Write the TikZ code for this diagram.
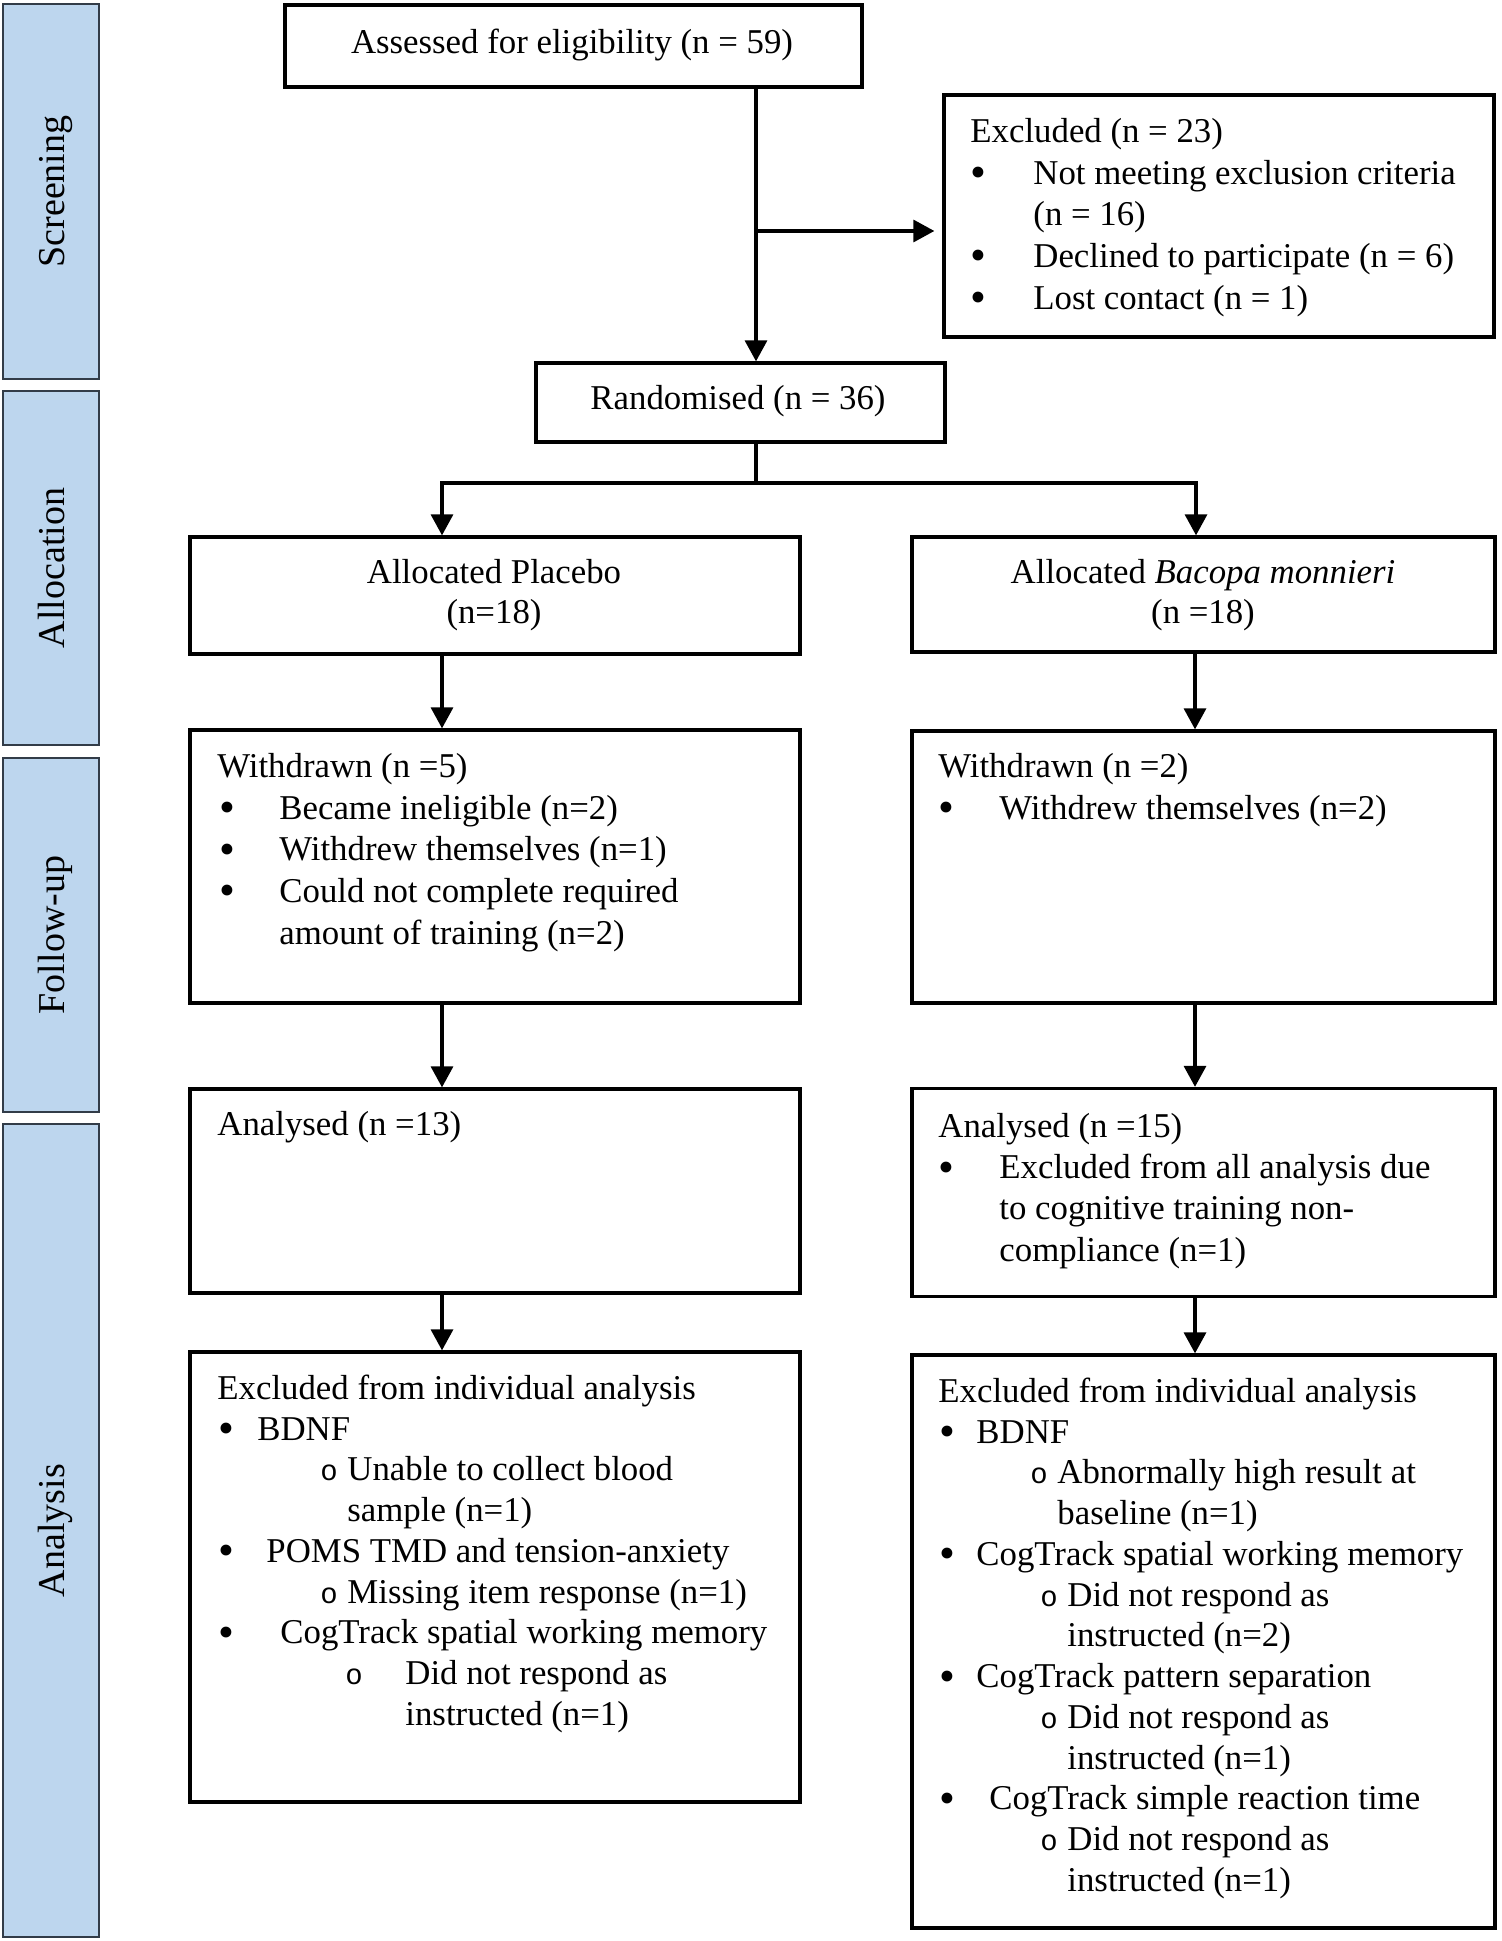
\documentclass[tikz,border=0pt]{standalone}
\usepackage{fontspec}
\setmainfont{Liberation Serif}
\newfontfamily\monof{Liberation Mono}
\usetikzlibrary{arrows.meta}
\definecolor{barfill}{RGB}{189,214,238}
\definecolor{barline}{RGB}{50,60,72}
\newlength\pxu \setlength\pxu{0.5pt}
\newcommand\bfnt{\fontsize{17.4pt}{20.85pt}\selectfont}
\newcommand\bfntb{\fontsize{17.4pt}{20.375pt}\selectfont}
\newcommand\bigbul{\raisebox{-0.1em}{\scalebox{1.3}{\textbullet}}}
\newcommand\subo{{\monof\fontsize{14.5pt}{17pt}\selectfont o}}
\newcommand\bitem[3]{\makebox[#2\pxu][l]{\hspace*{\dimexpr\pxu*(#1-1)\relax}\bigbul}#3}
\newcommand\sitem[3]{\hspace*{#1\pxu}\makebox[\dimexpr\pxu*(#2-#1)\relax][l]{\subo}#3}
\newcommand\ind[2]{\hspace*{#1\pxu}#2}
\newcommand\fs{\rule{0pt}{14pt}}
\begin{document}
\begin{tikzpicture}[x=0.5pt,y=-0.5pt,
  box/.style={draw, line width=1.65pt, rectangle, inner sep=0pt},
  bar/.style={draw=barline, fill=barfill, line width=0.6pt, rectangle, inner sep=0pt, minimum width=48pt},
  side/.style={rotate=90, anchor=base, inner sep=0pt, font=\fontsize{19pt}{22pt}\selectfont},
  txt/.style={anchor=north west, inner sep=0pt, align=left, font=\bfnt},
  ctr/.style={anchor=north, inner sep=0pt, align=center, font=\bfnt},
  conn/.style={line width=1.65pt},
  arr/.style={conn, -{Triangle[width=11pt,length=10.5pt]}},
  darr/.style={conn, {Triangle[width=11pt,length=10.5pt]}-{Triangle[width=11pt,length=10.5pt]}},
]
\useasboundingbox (0,0) rectangle (1501,1941);
\fill[white] (0,0) rectangle (1501,1941);

% side bars
\node[bar, minimum height=187.5pt] (barS) at (51,191.5) {};
\node[bar, minimum height=177pt] (barA) at (51,568) {};
\node[bar, minimum height=177pt] (barF) at (51,935) {};
\node[bar, minimum height=406.5pt] (barN) at (51,1530.5) {};
\node[side] (lblS) at (64,191.5) {Screening};
\node[side] (lblA) at (64,568) {Allocation};
\node[side] (lblF) at (64,935) {Follow-up};
\node[side] (lblN) at (64,1530.5) {Analysis};

% boxes
\node[box, minimum width=288.5pt, minimum height=41pt] (assess) at (573.5,46) {};
\node[box, minimum width=275pt, minimum height=121pt] (excl) at (1219,216) {};
\node[box, minimum width=204.5pt, minimum height=39.5pt] (rand) at (740.5,402.5) {};
\node[box, minimum width=305pt, minimum height=58.5pt] (allocP) at (495,595.5) {};
\node[box, minimum width=291.5pt, minimum height=57.5pt] (allocB) at (1203.5,594.5) {};
\node[box, minimum width=305pt, minimum height=136.5pt] (wdP) at (495,866.5) {};
\node[box, minimum width=291.5pt, minimum height=136pt] (wdB) at (1203.5,867) {};
\node[box, minimum width=305pt, minimum height=102pt] (anP) at (495,1191) {};
\node[box, minimum width=291.5pt, minimum height=104pt] (anB) at (1203.5,1192.5) {};
\node[box, minimum width=305pt, minimum height=225pt] (exP) at (495,1577) {};
\node[box, minimum width=291.5pt, minimum height=286.5pt] (exB) at (1203.5,1641.5) {};

% texts
\node[ctr] (tAssess) at (572,25) {\fs Assessed for eligibility (n = 59)};
\node[ctr] (tRand) at (738,381) {\fs Randomised (n = 36)};
\node[txt] (tExcl) at (970,114) {\fs Excluded (n = 23)\\
  \bitem{1}{63}{Not meeting exclusion criteria}\\
  \ind{63}{(n = 16)}\\
  \bitem{1}{63}{Declined to participate (n = 6)}\\
  \bitem{1}{63}{Lost contact (n = 1)}};
\node[ctr, font=\fontsize{17.4pt}{20pt}\selectfont] (tAllocP) at (494,555) {\fs Allocated Placebo\\(n=18)};
\node[ctr, font=\fontsize{17.4pt}{20pt}\selectfont] (tAllocB) at (1203,555) {\fs Allocated \textit{Bacopa monnieri}\\(n =18)};
\node[txt] (tWdP) at (217,749) {\fs Withdrawn (n =5)\\
  \bitem{3}{62}{Became ineligible (n=2)}\\
  \bitem{3}{62}{Withdrew themselves (n=1)}\\
  \bitem{3}{62}{Could not complete required}\\
  \ind{62}{amount of training (n=2)}};
\node[txt] (tWdB) at (938,749) {\fs Withdrawn (n =2)\\
  \bitem{1}{61}{Withdrew themselves (n=2)}};
\node[txt] (tAnP) at (217,1107) {\fs Analysed (n =13)};
\node[txt, font=\fontsize{17.4pt}{20.6pt}\selectfont] (tAnB) at (938,1109) {\fs Analysed (n =15)\\
  \bitem{1}{61}{Excluded from all analysis due}\\
  \ind{61}{to cognitive training non-}\\
  \ind{61}{compliance (n=1)}};
\node[txt, font=\bfntb] (tExP) at (217,1371) {\fs Excluded from individual analysis\\
  \bitem{2}{40}{BDNF}\\
  \sitem{103}{130}{Unable to collect blood}\\
  \ind{130}{sample (n=1)}\\
  \bitem{2}{49}{POMS TMD and tension-anxiety}\\
  \sitem{103}{130}{Missing item response (n=1)}\\
  \bitem{2}{63}{CogTrack spatial working memory}\\
  \sitem{128}{188}{Did not respond as}\\
  \ind{188}{instructed (n=1)}};
\node[txt, font=\bfntb] (tExB) at (938,1374) {\fs Excluded from individual analysis\\
  \bitem{2}{38}{BDNF}\\
  \sitem{92}{119}{Abnormally high result at}\\
  \ind{119}{baseline (n=1)}\\
  \bitem{2}{38}{CogTrack spatial working memory}\\
  \sitem{102}{129}{Did not respond as}\\
  \ind{129}{instructed (n=2)}\\
  \bitem{2}{38}{CogTrack pattern separation}\\
  \sitem{102}{129}{Did not respond as}\\
  \ind{129}{instructed (n=1)}\\
  \bitem{2}{51}{CogTrack simple reaction time}\\
  \sitem{102}{129}{Did not respond as}\\
  \ind{129}{instructed (n=1)}};

% connector coordinates
\coordinate (spine) at (756,0);
\coordinate (exj) at (756,231);
\coordinate (splitM) at (756,483);
\coordinate (splitL) at (442,483);
\coordinate (splitR) at (1196,483);
\coordinate (colL) at (442,0);
\coordinate (colR) at (1195,0);

% connectors
\draw[arr] (assess.south -| spine) -- (rand.north -| spine);
\draw[arr, shorten >=4pt] (exj) -- (exj -| excl.west);
\draw[conn] (rand.south -| spine) -- (splitM);
\draw[darr] (allocP.north -| splitL) -- (splitL) -- (splitR) -- (allocB.north -| splitR);
\draw[arr] (allocP.south -| colL) -- (wdP.north -| colL);
\draw[arr] (wdP.south -| colL) -- (anP.north -| colL);
\draw[arr] (anP.south -| colL) -- (exP.north -| colL);
\draw[arr] (allocB.south -| colR) -- (wdB.north -| colR);
\draw[arr] (wdB.south -| colR) -- (anB.north -| colR);
\draw[arr] (anB.south -| colR) -- (exB.north -| colR);
\end{tikzpicture}
\end{document}
